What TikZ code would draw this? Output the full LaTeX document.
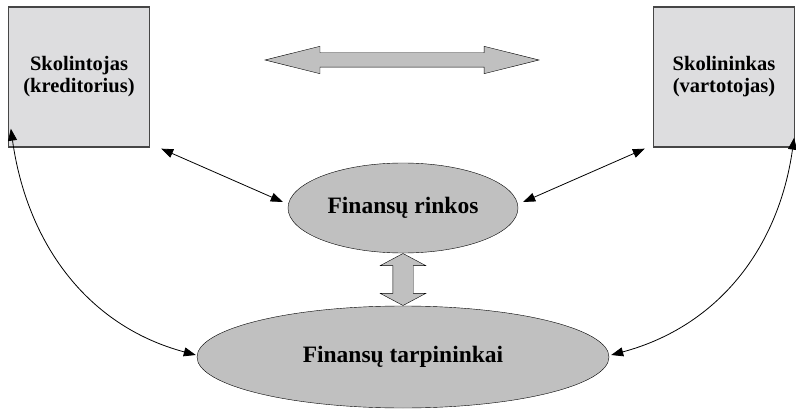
\documentclass[tikz,border=0pt]{standalone}
\usepackage{fontspec}
\setmainfont{Liberation Serif}
\usetikzlibrary{arrows.meta,shapes.geometric,shapes.arrows,calc}

\definecolor{boxgray}{RGB}{221,221,223}
\definecolor{ovalgray}{RGB}{192,192,192}
\definecolor{framegray}{RGB}{70,70,70}

\begin{document}
\begin{tikzpicture}[x=1pt, y=1pt,
    party/.style={draw=framegray, line width=1.3pt, fill=boxgray, align=center, minimum width=141pt, minimum height=140pt, font=\bfseries\fontsize{20.5}{22}\selectfont},
    market/.style={ellipse, draw, fill=ovalgray, inner sep=0pt, font=\bfseries\fontsize{23.5}{28}\selectfont},
    flow/.style={{Triangle[length=12pt,width=9pt]}-{Triangle[length=12pt,width=9pt]}, line width=0.8pt},
    bigarrow/.style={double arrow, draw, fill=ovalgray, inner xsep=0pt}
  ]
    \useasboundingbox (0,0) rectangle (796,408);

    \node[party] (kred) at (79,331) {Skolintojas\\(kreditorius)};
    \node[party] (varto) at (724,331) {Skolininkas\\(vartotojas)};
    \node[market, minimum width=230pt, minimum height=90pt] (rinkos) at (403,200) {Finansų rinkos};
    \node[market, minimum width=412pt, minimum height=102pt] (tarp) at (403,51) {Finansų tarpininkai};

    % top block arrow and the one between the two ovals
    \node[bigarrow, inner ysep=7pt, minimum height=274pt, double arrow head extend=6.5pt, double arrow tip angle=28] (top) at (402,348) {};
    \node[bigarrow, rotate=90, inner ysep=10pt, minimum height=52pt, double arrow head extend=12.5pt, double arrow tip angle=124] (link) at ($(rinkos.south)!0.5!(tarp.north)$) {};

    \draw[flow] ([xshift=11pt,yshift=-1pt]kred.south east) -- ([xshift=-5pt,yshift=6pt]rinkos.west);
    \draw[flow] ([xshift=-8pt,yshift=-1pt]varto.south west) -- ([xshift=5pt,yshift=6pt]rinkos.east);
    \draw[flow] ([xshift=3pt,yshift=19pt]kred.south west) to[out=-82, in=165] ([xshift=-1pt,yshift=2pt]tarp.west);
    \draw[flow] ([xshift=-1pt,yshift=10pt]varto.south east) to[out=-98, in=15] ([xshift=2pt,yshift=2pt]tarp.east);
\end{tikzpicture}
\end{document}
